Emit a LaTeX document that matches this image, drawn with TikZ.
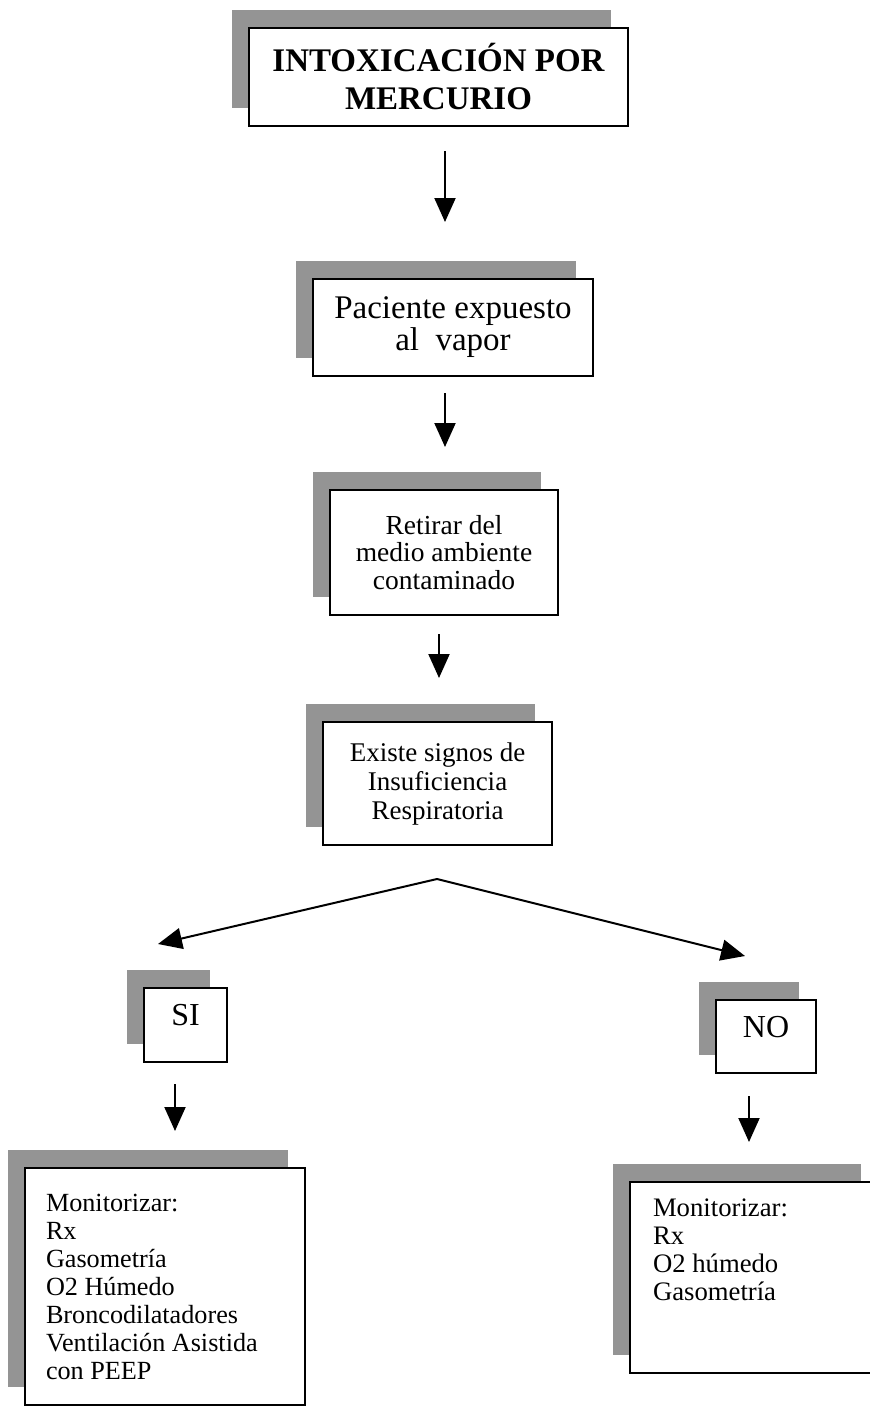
\documentclass[tikz,border=0pt]{standalone}
\usepackage{fontspec}
\setmainfont{Liberation Serif}
\usepackage{tikz}
\usetikzlibrary{calc}
\usetikzlibrary{positioning}
\usetikzlibrary{shadows}
\usetikzlibrary{arrows.meta}
\tikzstyle{flowbox} = [draw, fill=white, line width=2pt, inner sep=0pt, align=center, drop shadow={shadow xshift=-17pt, shadow yshift=18pt, fill=black!42, opacity=1}]
\tikzstyle{listbox} = [flowbox, align=flush left]
\tikzstyle{flowarrow} = [line width=2pt, -{Triangle[width=21pt,length=24pt]}]

\begin{document}
\begin{tikzpicture}[x=1pt, y=-1pt]
    \useasboundingbox (0,0) rectangle (870,1409);

    \node[flowbox, minimum width=379, minimum height=98, font=\fontsize{33}{38}\selectfont\bfseries] (title) at (438.5,77) {INTOXICACIÓN POR\\MERCURIO};
    \node[flowbox, minimum width=280, minimum height=97, font=\fontsize{33}{32}\selectfont] (pac) at ($(title)+(14.5,250.5)$) {Paciente expuesto\\al\ \ vapor};
    \node[flowbox, minimum width=228, minimum height=125, font=\fontsize{27.5}{27.5}\selectfont] (ret) at ($(pac)+(-9,225)$) {Retirar del\\medio ambiente\\contaminado};
    \node[flowbox, minimum width=229, minimum height=123, font=\fontsize{27}{29}\selectfont] (exi) at ($(ret)+(-6.5,231)$) {Existe signos de\\Insuficiencia\\Respiratoria};

    \node[flowbox, minimum width=83, minimum height=74, text depth=21pt, font=\fontsize{32}{34}\selectfont] (si) at ($(exi)+(-252,241.5)$) {SI};
    \node[flowbox, minimum width=100, minimum height=73, text depth=20pt, font=\fontsize{32}{34}\selectfont] (no) at ($(exi)+(328.5,253)$) {NO};

    \node[listbox, text width=238, inner xsep=21pt, minimum height=237, font=\fontsize{26.2}{28}\selectfont] (monsi) at ($(si)+(-20.5,261.5)$) {Monitorizar:\\Rx\\Gasometría\\O2 Húmedo\\Broncodilatadores\\Ventilación Asistida\\con PEEP};
    \node[listbox, text width=202, inner xsep=23pt, minimum height=191, text depth=139pt, font=\fontsize{26.7}{28}\selectfont] (monno) at ($(no)+(-12,241)$) {Monitorizar:\\Rx\\O2 húmedo\\Gasometría};

    \draw[flowarrow] ($(title.south)+(6.5,24)$) -- ($(pac.north)+(-8,-56)$);
    \draw[flowarrow] ($(pac.south)+(-8,16)$) -- ($(ret.north)+(1,-42)$);
    \draw[flowarrow] ($(ret.south)+(-5,18)$) -- ($(exi.north)+(1.5,-43)$);

    \coordinate (fork) at ($(exi.south)+(-0.5,33)$);
    \coordinate (si_in) at ($(si.north)+(-27.5,-43)$);
    \coordinate (no_in) at ($(no.north)+(-21,-43)$);
    \draw[flowarrow] (fork) -- (si_in);
    \draw[flowarrow] (fork) -- (no_in);

    \draw[flowarrow] ($(si.south)+(-10.5,21)$) -- ($(monsi.north)+(10,-36)$);
    \draw[flowarrow] ($(no.south)+(-17,22)$) -- ($(monno.north)+(-5,-39)$);
\end{tikzpicture}
\end{document}
